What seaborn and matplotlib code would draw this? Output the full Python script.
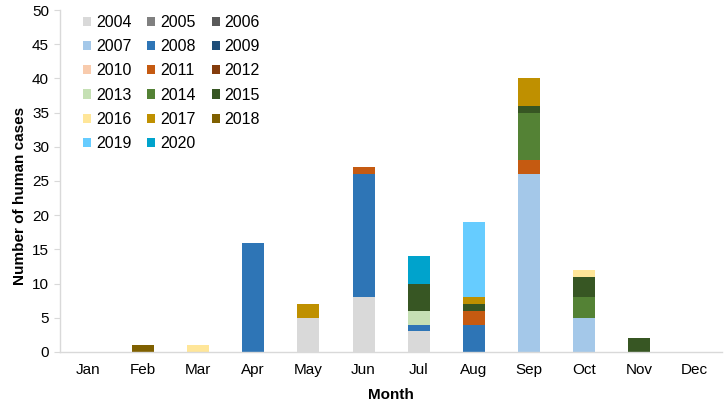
import matplotlib
matplotlib.use("Agg")
import matplotlib.pyplot as plt
import seaborn as sns
import pandas as pd
from matplotlib.patches import Patch

months = ["Jan", "Feb", "Mar", "Apr", "May", "Jun", "Jul", "Aug", "Sep", "Oct", "Nov", "Dec"]
years = ["2004", "2005", "2006", "2007", "2008", "2009", "2010", "2011", "2012",
         "2013", "2014", "2015", "2016", "2017", "2018", "2019", "2020"]
colors = ["#d9d9d9", "#808080", "#595959", "#a4c8e9", "#2e75b6", "#1f4e79",
          "#f8cbad", "#c55a11", "#843c0c", "#c5e0b4", "#548235", "#375623",
          "#ffe699", "#bf9000", "#7f6000", "#66ccff", "#00a3cc"]

# cases per (month, year)
rec_month = ["Feb", "Mar", "Apr", "May", "May", "Jun", "Jun", "Jun",
             "Jul", "Jul", "Jul", "Jul", "Jul",
             "Aug", "Aug", "Aug", "Aug", "Aug",
             "Sep", "Sep", "Sep", "Sep", "Sep",
             "Oct", "Oct", "Oct", "Oct", "Nov"]
rec_year = ["2018", "2016", "2008", "2004", "2017", "2004", "2008", "2011",
            "2004", "2008", "2013", "2015", "2020",
            "2008", "2011", "2015", "2017", "2019",
            "2007", "2011", "2014", "2015", "2017",
            "2007", "2014", "2015", "2016", "2015"]
rec_cases = [1, 1, 16, 5, 2, 8, 18, 1,
             3, 1, 2, 4, 4,
             4, 2, 1, 1, 11,
             26, 2, 7, 1, 4,
             5, 3, 3, 1, 2]

df = pd.DataFrame({"month": [months.index(m) for m in rec_month],
                   "year": rec_year, "cases": rec_cases})
palette = dict(zip(years, colors))
present = [y for y in years if y in set(rec_year)]

plt.rcParams["font.family"] = ["Liberation Sans", "DejaVu Sans"]
fig = plt.figure(figsize=(7.25, 4.04), dpi=100)
ax = fig.add_axes([0.083, 0.129, 0.913, 0.846])

sns.histplot(data=df, x="month", weights="cases", hue="year",
             hue_order=present[::-1], palette=palette, multiple="stack",
             discrete=True, shrink=0.4, binrange=(0, 11), linewidth=0,
             alpha=1, legend=False, ax=ax)

ax.set_xlim(-0.5, 11.5)
ax.set_ylim(0, 50)
ax.set_yticks(range(0, 51, 5))
ax.set_xticks(range(12))
ax.set_xticklabels(months)
ax.tick_params(axis="x", length=0, labelsize=11, pad=8, colors="#000000")
ax.tick_params(axis="y", length=4, color="#d9d9d9", labelsize=11, pad=4)
for s in ["top", "right"]:
    ax.spines[s].set_visible(False)
for s in ["left", "bottom"]:
    ax.spines[s].set_color("#d9d9d9")
    ax.spines[s].set_linewidth(1)
ax.grid(False)
ax.set_xlabel("Month", fontsize=11, fontweight="bold", labelpad=8)
ax.set_ylabel("Number of human cases", fontsize=11, fontweight="bold")
ax.yaxis.set_label_coords(-0.05, 0.455)

# legend laid out row by row (2004 2005 2006 / 2007 ...)
order = years[0::3] + years[1::3] + years[2::3]
handles = [Patch(facecolor=palette[y], edgecolor="none", label=y) for y in order]
ax.legend(handles=handles, ncol=3, loc="upper left", bbox_to_anchor=(0.013, 1.028),
          frameon=False, fontsize=11.5, handlelength=0.5, handleheight=0.5,
          handletextpad=0.3, columnspacing=1.0, labelspacing=0.58)

fig.savefig("out.png", dpi=100)
